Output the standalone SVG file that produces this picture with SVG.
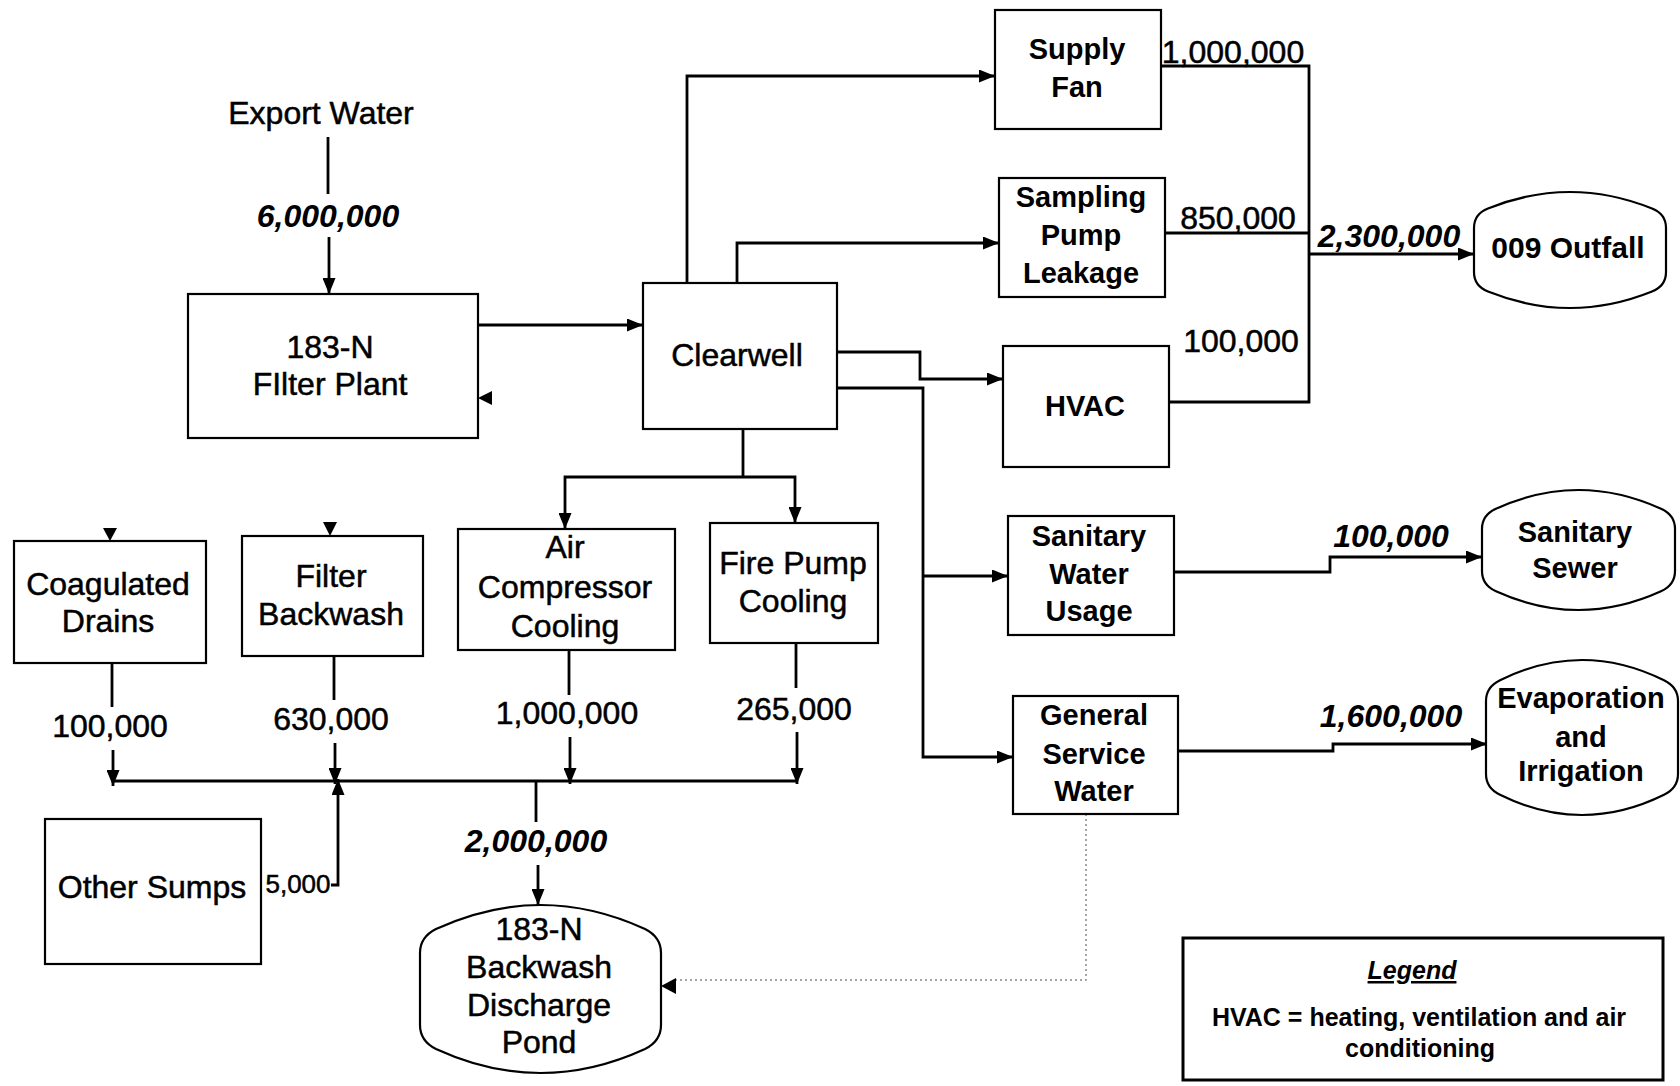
<svg xmlns="http://www.w3.org/2000/svg" width="1680" height="1086" viewBox="0 0 1680 1086">
<style>
text{font-family:"Liberation Sans",Arial,sans-serif;fill:#000;text-anchor:middle}
.t{font-size:32px;stroke:#000;stroke-width:0.5}
.b{font-size:29px;font-weight:bold}
.n{font-size:32px;stroke:#000;stroke-width:0.5}
.bi{font-size:32px;font-weight:bold;font-style:italic}
.box{fill:#fff;stroke:#000;stroke-width:2.2}
.c{fill:none;stroke:#000;stroke-width:2.8}
.a{marker-end:url(#ah)}
.dot{fill:none;stroke:#888;stroke-width:1.5;stroke-dasharray:2 3}
</style>
<defs>
<marker id="ah" viewBox="0 0 10 10" refX="10" refY="5" markerWidth="16" markerHeight="13" markerUnits="userSpaceOnUse" orient="auto" preserveAspectRatio="none"><path d="M0,0 L10,5 L0,10 Z" fill="#000"/></marker>
</defs>
<rect width="1680" height="1086" fill="#fff"/>

<g id="connectors">
<path class="c" d="M328 137 V194"/>
<path class="c a" d="M329 237 V294"/>
<path class="c a" d="M478 325 H643"/>
<path class="c a" d="M687 283 V76 H995"/>
<path class="c a" d="M737 283 V243 H999"/>
<path class="c a" d="M837 352 H920 V379 H1003"/>
<path class="c a" d="M837 388 H923 V757 H1013"/>
<path class="c a" d="M923 576 H1008"/>
<path class="c" d="M743 429 V477"/>
<path class="c a" d="M743 477 H565 V529"/>
<path class="c a" d="M743 477 H795 V523"/>
<path class="c" d="M1161 66 H1309 V402 H1169"/>
<path class="c" d="M1165 233 H1309"/>
<path class="c a" d="M1309 254 H1474"/>
<path class="c a" d="M1174 572 H1330 V557 H1482"/>
<path class="c a" d="M1178 751 H1333 V744 H1487"/>
<path class="c" d="M112 663 V707"/>
<path class="c a" d="M113 750 V786"/>
<path class="c" d="M334 656 V700"/>
<path class="c a" d="M335 743 V784"/>
<path class="c a" d="M331 885 H338 V779"/>
<path class="c" d="M569 650 V695"/>
<path class="c a" d="M570 737 V784"/>
<path class="c" d="M796 643 V688"/>
<path class="c a" d="M797 732 V784"/>
<path class="c" d="M113 781 H798"/>
<path class="c" d="M536 781 V822"/>
<path class="c a" d="M538 865 V905"/>
<path class="dot" d="M1086 814 V980 H676"/>
<polygon points="661,986 676,978 676,994" fill="#000"/>
<polygon points="478,398 492,391 492,405" fill="#000"/>
<polygon points="110,541 103,528 117,528" fill="#000"/>
<polygon points="330,536 323,522 337,522" fill="#000"/>
<text class="t" x="321" y="124">Export Water</text>
<text class="bi" x="328" y="227">6,000,000</text>
<text class="n" x="1233" y="63">1,000,000</text>
<text class="n" x="1238" y="229">850,000</text>
<text class="n" x="1241" y="352">100,000</text>
<text class="bi" x="1389" y="247">2,300,000</text>
<text class="bi" x="1391" y="547">100,000</text>
<text class="bi" x="1391" y="727">1,600,000</text>
<text class="n" x="110" y="737">100,000</text>
<text class="n" x="331" y="730">630,000</text>
<text class="n" x="567" y="724">1,000,000</text>
<text class="n" x="794" y="720">265,000</text>
<text x="298" y="893" style="font-size:26px;stroke:#000;stroke-width:0.5">5,000</text>
<text class="bi" x="536" y="852">2,000,000</text>
</g>

<g id="filter-plant">
<rect class="box" x="188" y="294" width="290" height="144"/>
<text class="t" x="330" y="358">183-N</text>
<text class="t" x="330" y="395">FIlter Plant</text>
</g>

<g id="clearwell">
<rect class="box" x="643" y="283" width="194" height="146"/>
<text class="t" x="737" y="366">Clearwell</text>
</g>

<g id="supply-fan">
<rect class="box" x="995" y="10" width="166" height="119"/>
<text class="b" x="1077" y="59">Supply</text>
<text class="b" x="1077" y="97">Fan</text>
</g>

<g id="sampling">
<rect class="box" x="999" y="178" width="166" height="119"/>
<text class="b" x="1081" y="207">Sampling</text>
<text class="b" x="1081" y="245">Pump</text>
<text class="b" x="1081" y="283">Leakage</text>
</g>

<g id="hvac">
<rect class="box" x="1003" y="346" width="166" height="121"/>
<text class="b" x="1085" y="416">HVAC</text>
</g>

<g id="sanitary-water">
<rect class="box" x="1008" y="516" width="166" height="119"/>
<text class="b" x="1089" y="546">Sanitary</text>
<text class="b" x="1089" y="584">Water</text>
<text class="b" x="1089" y="621">Usage</text>
</g>

<g id="general-service">
<rect class="box" x="1013" y="696" width="165" height="118"/>
<text class="b" x="1094" y="725">General</text>
<text class="b" x="1094" y="764">Service</text>
<text class="b" x="1094" y="801">Water</text>
</g>

<g id="outfall">
<path class="box" d="M1474,228 Q1474,214 1488,208.5 Q1570,175.5 1652,208.5 Q1666,214 1666,228 L1666,272 Q1666,286 1652,291.5 Q1570,324.5 1488,291.5 Q1474,286 1474,272 Z"/>
<text class="b" x="1568" y="258" style="font-size:30px">009 Outfall</text>
</g>

<g id="sanitary-sewer">
<path class="box" d="M1482,529 Q1482,515 1496,508.75 Q1578.5,471.25 1661,508.75 Q1675,515 1675,529 L1675,571 Q1675,585 1661,591.25 Q1578.5,628.75 1496,591.25 Q1482,585 1482,571 Z"/>
<text class="b" x="1575" y="542">Sanitary</text>
<text class="b" x="1575" y="578">Sewer</text>
</g>

<g id="evaporation">
<path class="box" d="M1486,701 Q1486,687 1500,680.25 Q1582,639.75 1664,680.25 Q1678,687 1678,701 L1678,774 Q1678,788 1664,794.75 Q1582,835.25 1500,794.75 Q1486,788 1486,774 Z"/>
<text class="b" x="1581" y="708">Evaporation</text>
<text class="b" x="1581" y="747">and</text>
<text class="b" x="1581" y="781">Irrigation</text>
</g>

<g id="coagulated-drains">
<rect class="box" x="14" y="541" width="192" height="122"/>
<text class="t" x="108" y="595">Coagulated</text>
<text class="t" x="108" y="632">Drains</text>
</g>

<g id="filter-backwash">
<rect class="box" x="242" y="536" width="181" height="120"/>
<text class="t" x="331" y="587">Filter</text>
<text class="t" x="331" y="625">Backwash</text>
</g>

<g id="air-compressor">
<rect class="box" x="458" y="529" width="217" height="121"/>
<text class="t" x="565" y="558">Air</text>
<text class="t" x="565" y="598">Compressor</text>
<text class="t" x="565" y="637">Cooling</text>
</g>

<g id="fire-pump">
<rect class="box" x="710" y="523" width="168" height="120"/>
<text class="t" x="793" y="574">Fire Pump</text>
<text class="t" x="793" y="612">Cooling</text>
</g>

<g id="other-sumps">
<rect class="box" x="45" y="819" width="216" height="145"/>
<text class="t" x="152" y="898">Other Sumps</text>
</g>

<g id="pond">
<path class="box" d="M420,953 Q420,937 436,929 Q540.5,881 645,929 Q661,937 661,953 L661,1025 Q661,1041 645,1049 Q540.5,1097 436,1049 Q420,1041 420,1025 Z"/>
<text class="t" x="539" y="940">183-N</text>
<text class="t" x="539" y="978">Backwash</text>
<text class="t" x="539" y="1016">Discharge</text>
<text class="t" x="539" y="1053">Pond</text>
</g>

<g id="legend">
<rect x="1183" y="938" width="480" height="142" fill="#fff" stroke="#000" stroke-width="3"/>
<text x="1412" y="979" style="font-size:25px;font-weight:bold;font-style:italic;text-decoration:underline">Legend</text>
<text x="1419" y="1026" style="font-size:25px;font-weight:bold">HVAC = heating, ventilation and air</text>
<text x="1420" y="1057" style="font-size:25px;font-weight:bold">conditioning</text>
</g>
</svg>
